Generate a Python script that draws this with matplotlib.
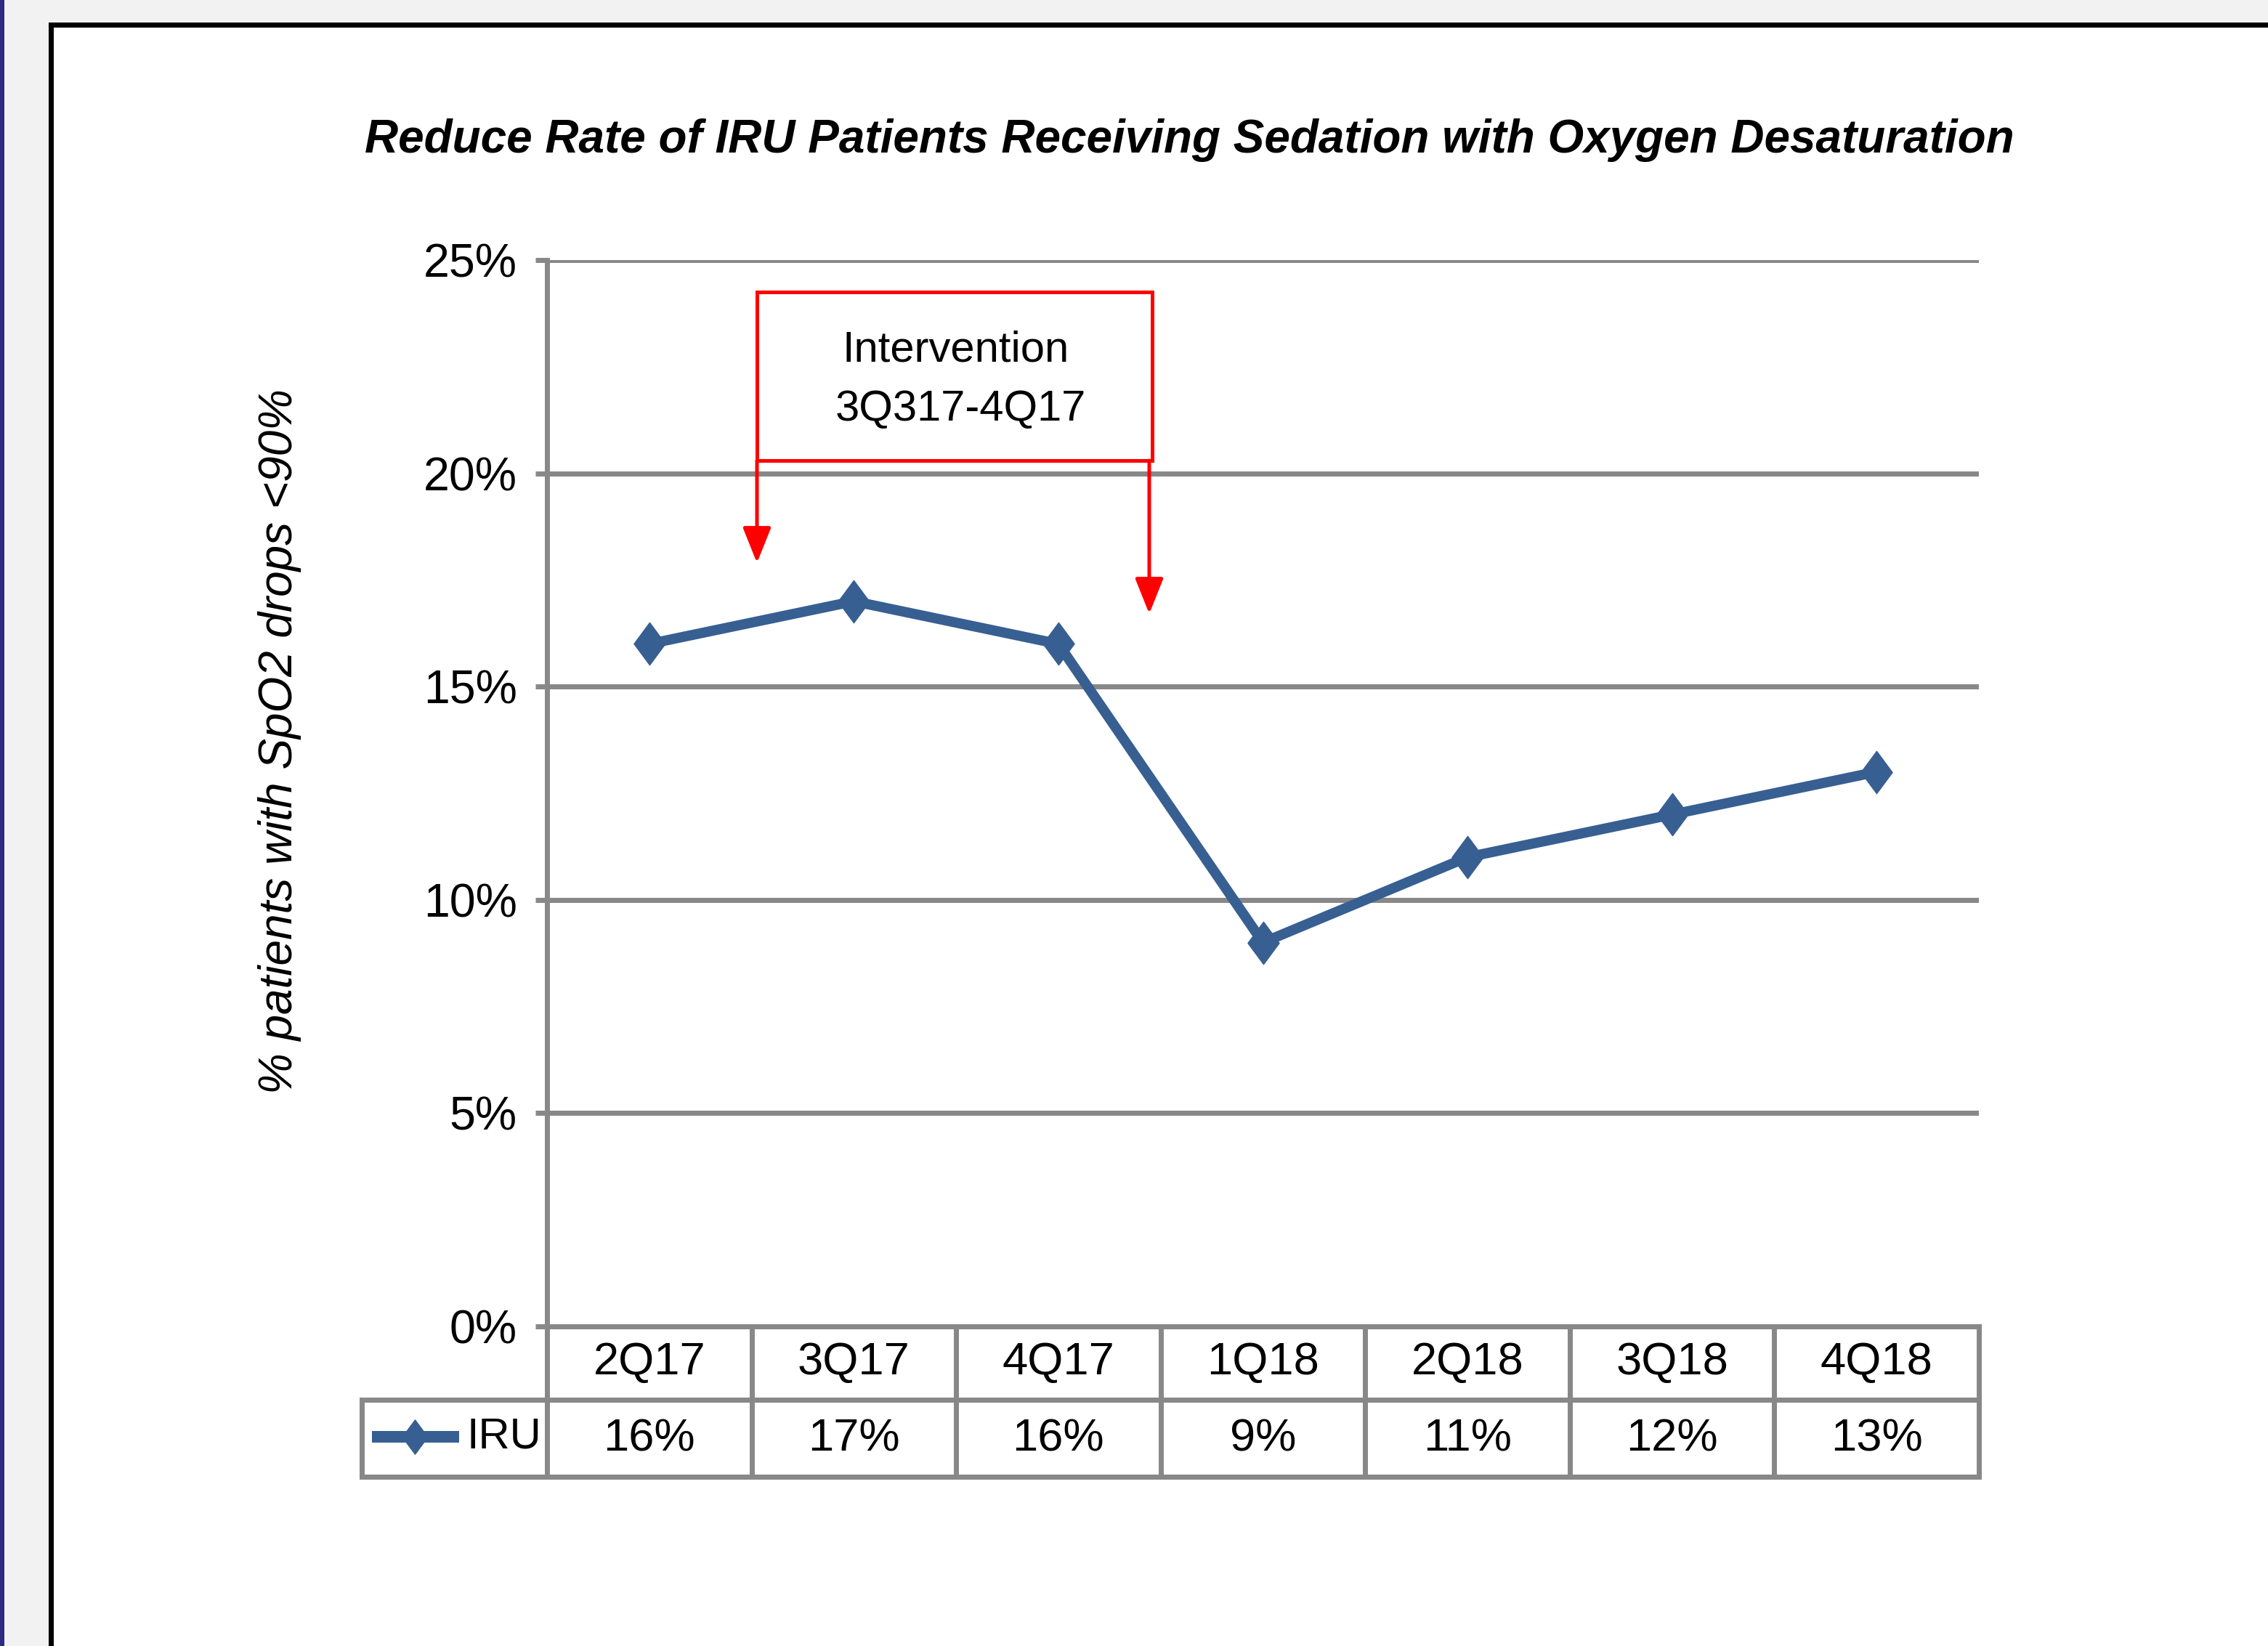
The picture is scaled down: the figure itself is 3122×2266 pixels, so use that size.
import matplotlib
matplotlib.use("Agg")
import matplotlib.pyplot as plt
from matplotlib import font_manager as fm
from matplotlib.patches import Rectangle, FancyArrowPatch
from matplotlib.path import Path
from matplotlib.transforms import blended_transform_factory

# ---------------- data ----------------
quarters = ["2Q17", "3Q17", "4Q17", "1Q18", "2Q18", "3Q18", "4Q18"]
iru_values = [16, 17, 16, 9, 11, 12, 13]
series_name = "IRU"
y_ticks = [0, 5, 10, 15, 20, 25]
y_tick_labels = ["0%", "5%", "10%", "15%", "20%", "25%"]
title_text = "Reduce Rate of IRU Patients Receiving Sedation with Oxygen Desaturation"
ylabel_text = "% patients with SpO2 drops <90%"
annot_lines = ["Intervention", "3Q317-4Q17"]


def has_font(name):
    try:
        fm.findfont(fm.FontProperties(family=name), fallback_to_default=False)
        return True
    except Exception:
        return False


if has_font("Liberation Sans Narrow"):
    NARROW = "Liberation Sans Narrow"
    k = 1.0
else:
    NARROW = "Liberation Sans"
    k = 0.86

W, H = 3122, 2266
DPI = 100
PX = 72.0 / DPI  # points per pixel

fig = plt.figure(figsize=(W / DPI, H / DPI), dpi=DPI, facecolor="#F2F2F2")

# blue strip at far left
fig.patches.append(Rectangle((0, 0), 6 / W, 1, transform=fig.transFigure,
                             facecolor="#2B2A85", edgecolor="none", zorder=-2))
# white panel with black frame
fig.patches.append(Rectangle((70 / W, -0.02), 1.2, 1 - 33.5 / H + 0.02,
                             transform=fig.transFigure, facecolor="white",
                             edgecolor="black", linewidth=7 * PX, zorder=-2))

ax_left, ax_right = 753, 2724
ax_top, ax_bot = 358, 1826
ax = fig.add_axes([ax_left / W, 1 - ax_bot / H, (ax_right - ax_left) / W,
                   (ax_bot - ax_top) / H])
ax.set_facecolor("none")
ax.set_zorder(1)

GRAY = "#888888"
BLUE = "#375F92"
LW = 7 * PX

x = list(range(len(quarters)))
ax.set_xlim(-0.5, len(quarters) - 0.5)
ax.set_ylim(0, 25)

for s in ["top", "right", "bottom"]:
    ax.spines[s].set_visible(False)
ax.spines["left"].set_color(GRAY)
ax.spines["left"].set_linewidth(LW)
ax.spines["left"].set_zorder(1)

ax.set_yticks(y_ticks)
ax.set_yticklabels(y_tick_labels, fontfamily=NARROW, fontsize=54 * k)
ax.tick_params(axis="y", length=16 * PX, width=LW, color=GRAY,
               pad=25 * PX, labelcolor="black")
ax.set_xticks([])
ax.yaxis.grid(True, color=GRAY, linewidth=LW, zorder=0)
ax.set_axisbelow(True)

# diamond marker (taller than wide)
diamond = Path([(0, 1), (0.74, 0), (0, -1), (-0.74, 0), (0, 1)], closed=True)

ax.plot(x, iru_values, color=BLUE, linewidth=14 * PX, marker=diamond,
        markersize=42, markerfacecolor=BLUE, markeredgecolor=BLUE,
        solid_joinstyle="miter", zorder=5, clip_on=False)

# ---------------- data table below axis ----------------
tb = blended_transform_factory(ax.transData, ax.transAxes)
h_ax = ax_bot - ax_top
r1 = -101 / h_ax
r2 = -207 / h_ax
col_w = (ax_right - ax_left) / len(quarters)
x_leftcell = (498 - ax_left) / col_w - 0.5
xmax = len(quarters) - 0.5

line_kw = dict(color=GRAY, linewidth=LW, transform=tb, clip_on=False,
               solid_capstyle="projecting", zorder=2)
ax.plot([-0.5, xmax], [0, 0], **line_kw)
ax.plot([x_leftcell, xmax], [r1, r1], **line_kw)
ax.plot([x_leftcell, xmax], [r2, r2], **line_kw)
for b in range(len(quarters) + 1):
    ax.plot([b - 0.5, b - 0.5], [0, r2], **line_kw)
ax.plot([x_leftcell, x_leftcell], [r1, r2], **line_kw)

y_head = -50 / h_ax
y_val = -155 / h_ax
for i, q in enumerate(quarters):
    ax.text(i, y_head, q, transform=tb, ha="center", va="center",
            fontfamily=NARROW, fontsize=53 * k, color="black")
    ax.text(i, y_val, f"{iru_values[i]}%", transform=tb, ha="center",
            va="center", fontfamily=NARROW, fontsize=53 * k, color="black")


def px2x(px):
    return (px - ax_left) / col_w - 0.5


# legend key inside the table
y_leg = -152 / h_ax
ax.plot([px2x(512), px2x(632)], [y_leg, y_leg], color=BLUE,
        linewidth=16 * PX, transform=tb, clip_on=False, zorder=3,
        solid_capstyle="butt")
ax.plot([px2x(571)], [y_leg], marker=diamond, markersize=34, color=BLUE,
        transform=tb, clip_on=False, zorder=3, linestyle="none")
ax.text(px2x(642), y_leg, series_name, transform=tb, ha="left", va="center",
        fontfamily=NARROW, fontsize=50 * k, color="black")


# ---------------- intervention annotation ----------------
def py2y(py):
    return (ax_bot - py) / (h_ax / 25.0)


bx0, bx1 = px2x(1042), px2x(1586)
by0, by1 = py2y(634), py2y(402)
ax.add_patch(Rectangle((bx0, by0), bx1 - bx0, by1 - by0, facecolor="white",
                       edgecolor="#FF0000", linewidth=5 * PX, zorder=6,
                       clip_on=False))
ax.text(px2x(1316), py2y(482), annot_lines[0], ha="center", va="center",
        fontfamily=NARROW, fontsize=50 * k, zorder=7)
ax.text(px2x(1322), py2y(563), annot_lines[1], ha="center", va="center",
        fontfamily=NARROW, fontsize=50 * k, zorder=7)

for ax_x, tip in [(px2x(1042), py2y(775)), (px2x(1582), py2y(845))]:
    arr = FancyArrowPatch((ax_x, by0), (ax_x, tip),
                          arrowstyle="-|>,head_length=30,head_width=12",
                          mutation_scale=1, color="#FF0000",
                          linewidth=5 * PX, shrinkA=0, shrinkB=0,
                          zorder=6, clip_on=False)
    ax.add_patch(arr)

# ---------------- titles ----------------
fig.text(1637 / W, 1 - 193 / H, title_text, ha="center", va="center",
         fontfamily=NARROW, fontsize=46 if k < 1 else 57, fontweight="bold",
         fontstyle="italic", color="black")
fig.text(385 / W, 1 - 1021 / H, ylabel_text, ha="center", va="center",
         rotation=90, fontfamily="Liberation Sans", fontsize=46,
         fontstyle="italic", color="black")

fig.savefig("out.png", dpi=DPI, facecolor=fig.get_facecolor())
